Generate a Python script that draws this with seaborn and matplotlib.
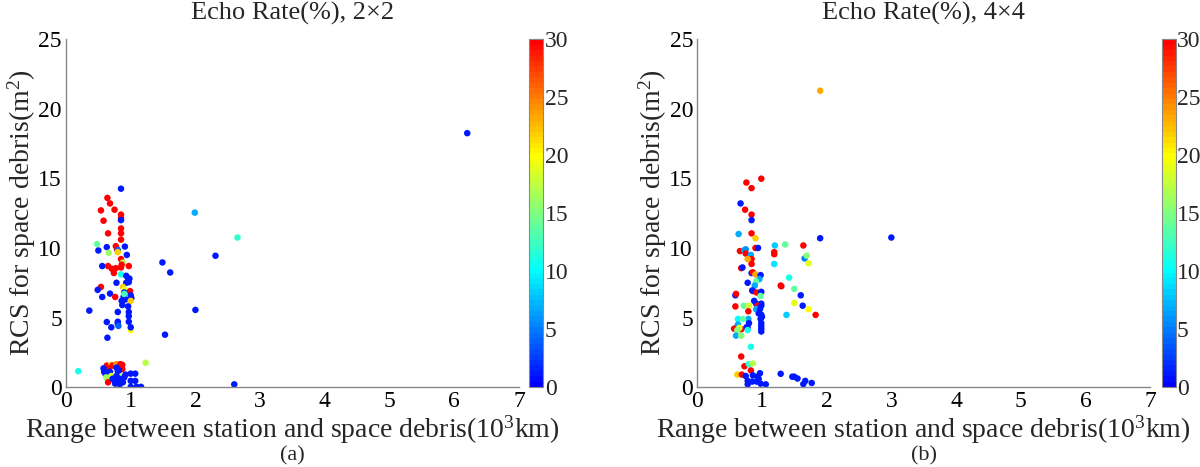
import numpy as np
import pandas as pd
import seaborn as sns
import matplotlib.pyplot as plt
from matplotlib.cm import ScalarMappable
from matplotlib.colors import Normalize, LinearSegmentedColormap

# === data: (a) 2x2 ===
range_a = [0.85, 0.64, 0.68, 0.54, 0.75, 0.85, 0.85, 0.85, 0.58, 0.85, 0.65, 0.85, 0.85,
           0.48, 0.50, 0.63, 0.66, 0.77, 0.79, 0.80, 0.80, 0.91, 0.94, 1.49, 1.61, 2.31,
           1.99, 0.85, 0.56, 0.65, 0.71, 0.77, 0.74, 0.85, 0.97, 0.88, 0.86, 0.85, 0.93,
           0.98, 0.78, 0.93, 0.97, 0.96, 0.88, 0.54, 0.49, 0.90,
           0.68, 0.56, 0.76, 0.99, 0.90, 0.89, 0.92, 0.90, 1.00, 1.01, 1.00, 0.86, 0.87,
           0.96, 0.97, 0.36, 0.80, 0.97, 0.97, 0.80, 0.80, 0.81, 0.63, 0.70, 1.00, 1.00,
           1.53, 0.64, 2.00, 2.65, 6.20,
           0.19, 1.23, 0.63, 0.70, 0.72, 0.78, 0.84, 0.87, 0.66, 0.87, 0.58, 0.59, 0.61,
           0.68, 0.78, 0.80, 0.82, 0.62, 0.85, 0.70, 0.65, 0.72, 0.75, 0.78, 0.80, 0.82,
           0.85, 0.88, 0.90, 0.92, 0.76, 0.83, 1.00, 1.07, 1.00, 1.07, 1.00, 1.09, 1.16,
           2.60]
rcs_a = [14.26, 13.6, 13.2, 12.7, 12.75, 12.4, 12.15, 12.0, 11.96, 11.4, 11.05, 11.05, 10.6,
         10.28, 9.82, 10.06, 9.65, 10.13, 9.9, 9.85, 9.7, 10.1, 9.5, 8.96, 8.24, 9.44,
         12.54, 9.2, 8.7, 8.7, 8.5, 8.55, 8.2, 8.6, 8.7, 8.95, 8.8, 8.1, 8.0,
         7.8, 7.5, 7.5, 7.55, 7.65, 7.2, 7.2, 6.99, 7.0,
         6.72, 6.48, 6.48, 6.9, 6.8, 6.5, 6.3, 6.7, 6.6, 6.4, 6.2, 6.2, 5.9,
         5.8, 5.4, 5.5, 5.4, 5.1, 4.7, 4.7, 4.55, 4.4, 4.68, 4.3, 4.1, 4.3,
         3.77, 3.55, 5.55, 10.75, 18.25,
         1.15, 1.75, 1.55, 1.6, 1.55, 1.65, 1.65, 1.6, 1.35, 1.3, 1.35, 1.1, 0.95,
         1.1, 1.4, 1.15, 1.2, 0.7, 0.75, 0.8, 0.35, 0.6, 0.45, 0.8, 0.3, 0.6,
         0.5, 0.35, 0.7, 0.9, 0.25, 0.2, 0.97, 0.97, 0.45, 0.45, 0.02, 0.02, 0.02,
         0.2]
rate_a = [1, 30, 30, 30, 30, 30, 30, 1, 30, 30, 30, 30, 30,
          14, 1, 1, 16, 30, 30, 4, 22, 1, 1, 1, 1, 1,
          7, 30, 1, 30, 30, 30, 30, 30, 30, 17, 30, 11, 1,
          1, 1, 1, 1, 1, 22, 30, 1, 19,
          1, 1, 30, 30, 1, 1, 1, 13, 1, 1, 22, 1, 1,
          1, 1, 1, 1, 1, 1, 1, 1, 4, 1, 1, 20, 1,
          1, 1, 1, 12, 1,
          11, 17, 30, 22, 30, 24, 30, 30, 30, 30, 1, 1, 1,
          1, 1, 1, 1, 16, 16, 18, 30, 1, 1, 1, 1, 1,
          1, 1, 1, 1, 1, 1, 1, 1, 1, 1, 1, 1, 1,
          1]

# === (b) 4x4 ===
range_b = [0.76, 0.99, 0.84, 0.67, 0.74, 0.84, 0.84, 0.64, 0.84, 0.90, 0.66, 0.73, 0.75,
           0.75, 0.90, 0.94, 0.83, 0.84, 0.84, 0.78, 0.68, 0.70, 0.84, 0.86, 0.90, 0.98,
           1.20, 1.36, 1.64, 1.90, 1.19, 1.19, 1.19, 1.66, 1.69, 1.72, 1.42, 3.00, 1.90,
           0.96, 0.78, 0.91, 0.89, 1.29, 1.30, 1.50, 0.86, 0.85, 0.92, 0.99, 0.59, 0.60,
           0.98, 1.60, 0.88, 0.91, 0.99, 1.50, 0.59, 0.72, 0.80, 0.93, 0.99, 1.63, 0.91,
           0.97, 1.72, 0.79, 0.95, 0.99, 1.00, 1.38, 1.83, 0.63, 0.79, 0.71, 0.98, 0.99,
           0.80, 0.63, 0.62, 0.76, 0.78, 0.57, 0.68, 0.65, 0.62, 0.78, 0.99, 0.99, 0.99,
           0.60, 0.68, 0.83, 0.68, 0.73, 0.80, 0.86, 0.83, 0.62, 0.69, 0.75, 0.86, 0.93,
           0.97, 0.78, 0.85, 0.92, 0.95, 0.98, 0.78, 1.06, 1.29, 1.47, 1.50, 1.55, 1.67,
           1.64, 1.77]
rcs_b = [14.7, 14.98, 14.3, 13.2, 12.75, 12.4, 12.0, 11.0, 11.05, 10.7, 9.78, 9.85, 9.9,
         9.6, 10.0, 10.0, 9.5, 9.2, 8.85, 9.2, 8.55, 8.6, 8.2, 8.25, 8.1, 8.05,
         10.18, 10.25, 10.18, 10.7, 9.7, 9.55, 8.85, 9.25, 9.45, 8.9, 7.87, 10.75, 21.3,
         7.76, 7.5, 7.6, 7.3, 7.3, 7.25, 7.06, 6.9, 6.95, 6.8, 6.85, 6.6, 6.7,
         6.55, 6.6, 6.2, 6.0, 6.0, 6.05, 5.8, 5.85, 5.85, 5.85, 5.85, 5.85, 5.6,
         5.6, 5.6, 5.45, 5.3, 5.2, 5.05, 5.19, 5.19, 4.9, 4.9, 4.9, 4.9, 4.6,
         4.6, 4.5, 4.35, 4.3, 4.25, 4.2, 4.15, 4.25, 4.1, 4.1, 4.4, 4.2, 4.0,
         3.7, 3.7, 2.9, 2.2, 1.5, 1.65, 1.7, 1.2, 0.9, 0.9, 0.8, 0.85, 0.75,
         1.0, 0.45, 0.4, 0.4, 0.6, 0.25, 0.2, 0.2, 0.96, 0.75, 0.75, 0.62, 0.45,
         0.22, 0.3]
rate_b = [30, 30, 30, 1, 30, 30, 1, 7, 30, 22, 30, 7, 6,
          30, 30, 1, 7, 30, 30, 23, 30, 1, 1, 30, 23, 1,
          8, 14, 30, 1, 30, 30, 9, 5, 15, 19, 11, 1, 23,
          7, 1, 14, 7, 30, 30, 14, 30, 1, 30, 1, 1, 30,
          14, 1, 1, 1, 1, 19, 30, 14, 18, 30, 1, 1, 7,
          1, 20, 30, 1, 1, 1, 8, 30, 10, 7, 14, 1, 1,
          1, 7, 7, 1, 1, 30, 30, 19, 15, 11, 1, 1, 1,
          7, 15, 11, 30, 30, 12, 17, 30, 22, 30, 1, 1, 1,
          1, 1, 1, 1, 1, 1, 1, 1, 1, 1, 1, 1, 1,
          1, 1]

panels = [
    ("Echo Rate(%), 2\u00d72", "(a)", range_a, rcs_a, rate_a),
    ("Echo Rate(%), 4\u00d74", "(b)", range_b, rcs_b, rate_b),
]

sns.set_style("white")
plt.rcParams["font.family"] = ["Liberation Serif", "DejaVu Serif"]
plt.rcParams["mathtext.fontset"] = "custom"
plt.rcParams["mathtext.rm"] = "Liberation Serif"
plt.rcParams["mathtext.it"] = "Liberation Serif:italic"

# MATLAB-style jet core: pure blue -> cyan -> yellow -> pure red, 64 steps
cmap = LinearSegmentedColormap.from_list(
    "jet_core", ["#0000ff", "#00ffff", "#ffff00", "#ff0000"], N=64)
norm = Normalize(vmin=0, vmax=30)

fig = plt.figure(figsize=(12, 4.67), dpi=100)
ax_boxes = [[0.055, 0.171, 0.3775, 0.745], [0.581, 0.171, 0.3775, 0.745]]
cb_boxes = [[0.441, 0.171, 0.0117, 0.745], [0.968, 0.171, 0.0117, 0.745]]
tag_x = [0.055 + 0.3775 / 2, 0.581 + 0.3775 / 2]
grey = "#888888"

for (title, tag, xs, ys, rate), box, cbox, tx in zip(panels, ax_boxes, cb_boxes, tag_x):
    ax = fig.add_axes(box)
    df = pd.DataFrame({"range": xs, "rcs": ys, "rate": rate})
    sns.scatterplot(data=df, x="range", y="rcs", hue="rate", palette=cmap,
                    hue_norm=norm, s=22, linewidth=0, legend=False, ax=ax)
    ax.set_xlim(0, 7)
    ax.set_ylim(0, 25)
    ax.set_xticks(range(0, 8))
    ax.set_yticks(range(0, 26, 5))
    sns.despine(ax=ax)
    for sp in ["left", "bottom"]:
        ax.spines[sp].set_color(grey)
        ax.spines[sp].set_linewidth(1.0)
    ax.tick_params(direction="in", length=5, color=grey, labelsize=17,
                   labelcolor="black", pad=3)
    ax.set_title(title, fontsize=19, pad=14)
    ax.set_xlabel("Range between station and space debris(10$^3$km)", fontsize=20,
                  labelpad=1)
    ax.set_ylabel("RCS for space debris(m$^2$)", fontsize=20, labelpad=0)
    fig.text(tx, 0.004, tag, ha="center", va="bottom", fontsize=16)

    cax = fig.add_axes(cbox)
    sm = ScalarMappable(norm=norm, cmap=cmap)
    cb = fig.colorbar(sm, cax=cax, ticks=range(0, 31, 5))
    cb.outline.set_edgecolor(grey)
    cb.outline.set_linewidth(0.8)
    cax.tick_params(direction="in", length=4, width=0.8, color="#333333",
                    labelsize=17, pad=1)

fig.savefig("out.png", dpi=100)
